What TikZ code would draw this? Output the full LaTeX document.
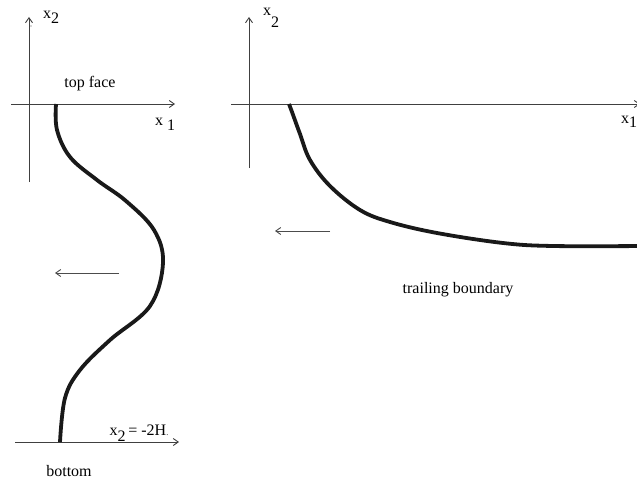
\documentclass[tikz,border=0pt]{standalone}
\usepackage{fontspec}
\setmainfont{Liberation Serif}
\usetikzlibrary{arrows.meta}
\tikzset{
  axis/.style={draw=black!75, line width=0.9pt, -{Straight Barb[length=5pt,width=7pt]}},
  motion/.style={draw=black!70, line width=0.9pt, -{Straight Barb[length=5pt,width=7pt]}},
  front/.style={line width=3.8pt, black!90, line cap=butt},
  lbl/.style={inner sep=0pt, font=\fontsize{16}{18}\selectfont}
}
\begin{document}
\begin{tikzpicture}[x=1pt,y=-1pt]
\useasboundingbox (0,0) rectangle (637,484);
% ---------- left picture ----------
\draw[axis] (29,182) -- (29,17);
\draw[axis] (11,104) -- (175,104);
\draw[axis] (15,442) -- (179,442);
\fill[black!70] (31,26) circle (0.6);
\node[lbl] (lx2) at (51,17) {x\raisebox{-5pt}{2}};
\node[lbl] (lx1) at (165,124) {x\hspace{4pt}\raisebox{-5pt}{1}};
\node[lbl] (top) at (90,84) {top face};
\node[lbl] (bot) at (69,471) {bottom};
\node[lbl] (eq) at (139,433) {x\raisebox{-6pt}{2}\,= -2H\raisebox{0pt}{\fontsize{8}{8}\selectfont .}};
\draw[front] plot[smooth, tension=0.6] coordinates {(56,104) (57,130) (70,157) (97,180) (126,201) (154,230) (163,263) (150,306) (110,340) (80,370) (65,398) (60,442)};
\draw[motion] (119,273) -- (55,273);
% ---------- right picture ----------
\draw[axis] (249,168) -- (249,17);
\draw[axis] (231,104) -- (640,104);
\node[lbl] (rx2) at (271,18) {x\raisebox{-12pt}{2}};
\node[lbl] (rx1) at (629,122) {x\raisebox{-4pt}{1}};
\draw[front] plot[smooth, tension=0.6] coordinates {(289,104) (292,112) (300,134) (310,160) (330,186) (360,210) (390,222) (437,233) (503,243) (553,246) (645,246)};
\draw[motion] (330,231) -- (275,231);
\node[lbl] (trail) at (458,290) {trailing boundary};
\end{tikzpicture}
\end{document}
